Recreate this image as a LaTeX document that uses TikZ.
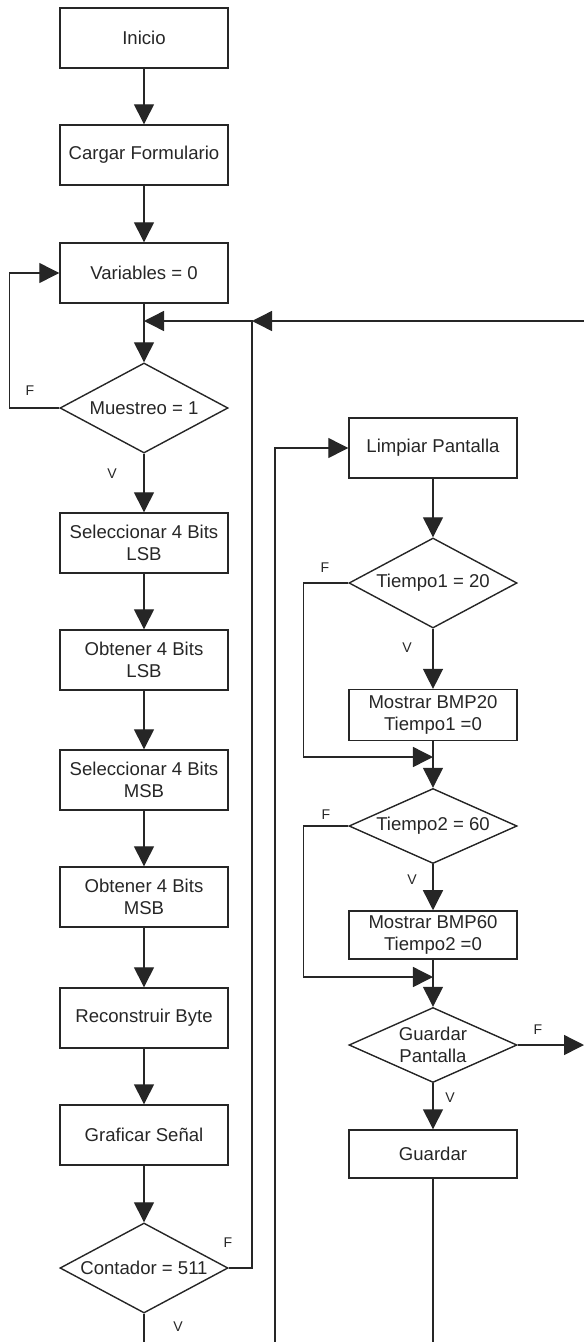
\documentclass[tikz,border=0pt]{standalone}
\usepackage{fontspec}
\setmainfont{Liberation Sans}
\usepackage{tikz}
\usetikzlibrary{shapes.geometric,arrows.meta}

\tikzset{
  caja/.style={draw, rectangle, minimum width=4.2cm, minimum height=1.5cm,
    align=center, font=\fontsize{13.2}{15.6}\selectfont},
  rombo/.style={draw, diamond, aspect=2, inner sep=0pt, minimum width=4.2cm,
    minimum height=2.25cm, align=center, font=\fontsize{13.2}{15.6}\selectfont},
  flecha/.style={-{Triangle[length=0.5cm,width=0.5cm]}},
  etiq/.style={font=\fontsize{10}{12}\selectfont}
}

\begin{document}
\begin{tikzpicture}[x=0.025cm, y=-0.025cm, line width=1pt, color=black!85]
                \useasboundingbox (0,0) rectangle (584,1342);

                % columna izquierda
                \node[caja] (inicio) at (144,38) {Inicio};
                \node[caja] (cargar) at (144,155) {Cargar Formulario};
                \node[caja] (vars) at (144,273) {Variables = 0};
                \node[rombo] (muestreo) at (144,408) {Muestreo = 1};
                \node[caja] (sel1) at (144,543) {Seleccionar 4 Bits\\LSB};
                \node[caja] (obt1) at (144,660) {Obtener 4 Bits\\LSB};
                \node[caja] (sel2) at (144,780) {Seleccionar 4 Bits\\MSB};
                \node[caja] (obt2) at (144,897) {Obtener 4 Bits\\MSB};
                \node[caja] (recon) at (144,1018) {Reconstruir Byte};
                \node[caja] (graf) at (144,1135) {Graficar Señal};
                \node[rombo] (contador) at (144,1268) {Contador = 511};

                % columna derecha
                \node[caja] (limpiar) at (433,448) {Limpiar Pantalla};
                \node[rombo] (t1) at (433,583) {Tiempo1 = 20};
                \node[caja, minimum height=1.27cm] (bmp20) at (433,715) {Mostrar BMP20\\Tiempo1 =0};
                \node[rombo, aspect=2.24, minimum height=1.875cm] (t2) at (433,826) {Tiempo2 = 60};
                \node[caja, minimum height=1.2cm] (bmp60) at (433,935) {Mostrar BMP60\\Tiempo2 =0};
                \node[rombo, aspect=2.24, minimum height=1.875cm] (gp) at (433,1045) {Guardar\\Pantalla};
                \node[caja, minimum height=1.2cm] (guardar) at (433,1154) {Guardar};

                % puntos de union
                \coordinate (j1) at (144,321);
                \coordinate (j2) at (252,321);
                \coordinate (e1) at (584,321);
                \coordinate (j3) at (433,757);
                \coordinate (j4) at (433,977);
                \coordinate (e2) at (584,1045);
                \coordinate (b1) at (275,1342);
                \coordinate (b2) at (433,1342);
                \coordinate (b3) at (144,1342);

                % flechas izquierda
                \draw[flecha] (inicio) -- (cargar);
                \draw[flecha] (cargar) -- (vars);
                \draw[flecha] (vars) -- (muestreo);
                \draw[flecha] (muestreo.west) -- ++(-50,0) |- (vars.west);
                \draw[flecha] (muestreo) -- (sel1);
                \draw[flecha] (sel1) -- (obt1);
                \draw[flecha] (obt1) -- (sel2);
                \draw[flecha] (sel2) -- (obt2);
                \draw[flecha] (obt2) -- (recon);
                \draw[flecha] (recon) -- (graf);
                \draw[flecha] (graf) -- (contador);
                \draw[flecha] (contador.east) -| (j2) -- (j1);
                \draw[flecha] (e1) -- (j2);
                \draw (contador) -- (b3);

                % flechas derecha
                \draw[flecha] (b1) |- (limpiar.west);
                \draw[flecha] (limpiar) -- (t1);
                \draw[flecha] (t1) -- (bmp20);
                \draw[flecha] (t1.west) -- ++(-45,0) |- (j3);
                \draw[flecha] (bmp20) -- (t2);
                \draw[flecha] (t2) -- (bmp60);
                \draw[flecha] (t2.west) -- ++(-45,0) |- (j4);
                \draw[flecha] (bmp60) -- (gp);
                \draw[flecha] (gp) -- (guardar);
                \draw[flecha] (gp.east) -- (e2);
                \draw (guardar) -- (b2);

                % etiquetas
                \node[etiq] (fm) at (30,391) {F};
                \node[etiq] (vm) at (112,474) {V};
                \node[etiq] (fc) at (228,1243) {F};
                \node[etiq] (vc) at (178,1327) {V};
                \node[etiq] (f1) at (325,568) {F};
                \node[etiq] (v1) at (407,648) {V};
                \node[etiq] (f2) at (326,815) {F};
                \node[etiq] (v2) at (412,880) {V};
                \node[etiq] (fg) at (538,1030) {F};
                \node[etiq] (vg) at (450,1098) {V};
\end{tikzpicture}
\end{document}
